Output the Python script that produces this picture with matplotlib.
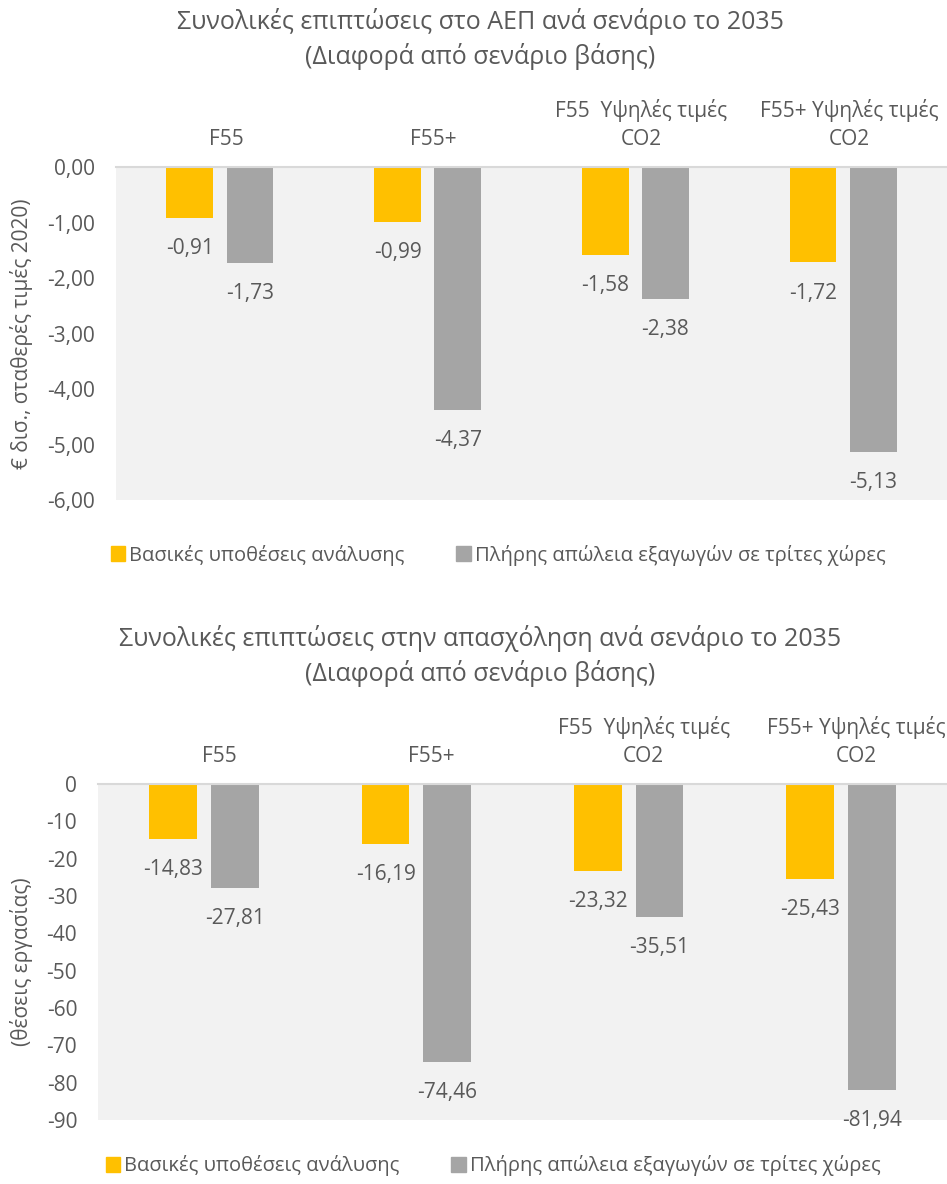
import numpy as np
import matplotlib.pyplot as plt
from matplotlib.patches import Patch
import matplotlib.transforms as mtransforms

plt.rcParams['font.family'] = ['Open Sans', 'DejaVu Sans']

# --- Données ---
scenarios = ["F55", "F55+", "F55  Υψηλές τιμές\nCO2", "F55+ Υψηλές τιμές\nCO2"]
series_names = ["Βασικές υποθέσεις ανάλυσης", "Πλήρης απώλεια εξαγωγών σε τρίτες χώρες"]

gdp_base = [-0.91, -0.99, -1.58, -1.72]
gdp_full_loss = [-1.73, -4.37, -2.38, -5.13]

jobs_base = [-14.83, -16.19, -23.32, -25.43]
jobs_full_loss = [-27.81, -74.46, -35.51, -81.94]

gdp_ticks = [0.0, -1.0, -2.0, -3.0, -4.0, -5.0, -6.0]
jobs_ticks = [0, -10, -20, -30, -40, -50, -60, -70, -80, -90]

# --- Style ---
yellow = "#FFC000"
grey = "#A5A5A5"
bg = "#F2F2F2"
txt = "#595959"
fs = 15
fs_title = 18
fs_leg = 14.5

W, H = 947, 1184
fig = plt.figure(figsize=(W / 100, H / 100), dpi=100)


def px_axes(left, top, right, bottom):
    return fig.add_axes([left / W, 1 - bottom / H, (right - left) / W, (bottom - top) / H])


def draw(ax, base, full, ticks, fmt, ylabel, label_dx):
    x = np.arange(len(scenarios))
    w = 0.225
    ax.bar(x - 0.145, base, w, color=yellow)
    ax.bar(x + 0.145, full, w, color=grey)
    for xi, v in zip(x - 0.145, base):
        ax.annotate(fmt(v), (xi, v), xytext=(0, -22), textcoords="offset points",
                    ha="center", va="center", fontsize=fs, color=txt)
    for xi, v in zip(x + 0.145, full):
        ax.annotate(fmt(v), (xi, v), xytext=(0, -22), textcoords="offset points",
                    ha="center", va="center", fontsize=fs, color=txt)

    ax.set_facecolor(bg)
    ax.set_xlim(-0.5, len(scenarios) - 0.5)
    ax.set_ylim(ticks[-1], 0)
    ax.set_yticks(ticks)
    ax.set_yticklabels([fmt(t) for t in ticks])
    ax.tick_params(axis="y", length=0, pad=15, labelsize=fs, labelcolor=txt)

    ax.xaxis.tick_top()
    ax.set_xticks(x)
    ax.set_xticklabels(scenarios, linespacing=1.45)
    ax.tick_params(axis="x", length=0, pad=12, labelsize=fs, labelcolor=txt)
    offset = mtransforms.ScaledTranslation(label_dx / 100, 0, fig.dpi_scale_trans)
    for lab in ax.get_xticklabels():
        lab.set_transform(lab.get_transform() + offset)

    for s in ["left", "right", "bottom"]:
        ax.spines[s].set_visible(False)
    ax.spines["top"].set_color("#D9D9D9")
    ax.spines["top"].set_linewidth(1.5)

    ax.set_ylabel(ylabel, fontsize=fs, color=txt)


def gdp_fmt(v):
    return f"{v:.2f}".replace(".", ",")


def jobs_fmt(v):
    if float(v).is_integer():
        return f"{int(v)}"
    return f"{v:.2f}".replace(".", ",")


def add_legend(cx, cy):
    fig.legend(handles=[Patch(color=yellow, label=series_names[0]),
                        Patch(color=grey, label=series_names[1])],
               loc="center", bbox_to_anchor=(cx / W, 1 - cy / H), ncol=2, frameon=False,
               fontsize=fs_leg, labelcolor=txt, handlelength=0.7, handleheight=0.7,
               handletextpad=0.2, columnspacing=2.6)


# --- Graphique 1 : PIB ---
ax1 = px_axes(116, 167, 947, 500)
draw(ax1, gdp_base, gdp_full_loss, gdp_ticks, gdp_fmt, "€ δισ., σταθερές τιμές 2020)", 6)
ax1.yaxis.set_label_coords((33 - 116) / 831, 0.5)
fig.text(480 / W, 1 - 39 / H, "Συνολικές επιπτώσεις στο ΑΕΠ ανά σενάριο το 2035\n(Διαφορά από σενάριο βάσης)",
         ha="center", va="center", fontsize=fs_title, color=txt, linespacing=1.4)
add_legend(498, 555)

# --- Graphique 2 : emploi ---
ax2 = px_axes(98, 784, 947, 1120)
draw(ax2, jobs_base, jobs_full_loss, jobs_ticks, jobs_fmt, "(θέσεις εργασίας)", 15)
ax2.yaxis.set_label_coords((33 - 98) / 849, 0.47)
fig.text(480 / W, 1 - 656 / H, "Συνολικές επιπτώσεις στην απασχόληση ανά σενάριο το 2035\n(Διαφορά από σενάριο βάσης)",
         ha="center", va="center", fontsize=fs_title, color=txt, linespacing=1.4)
add_legend(493, 1166)

fig.savefig("out.png", dpi=100)
